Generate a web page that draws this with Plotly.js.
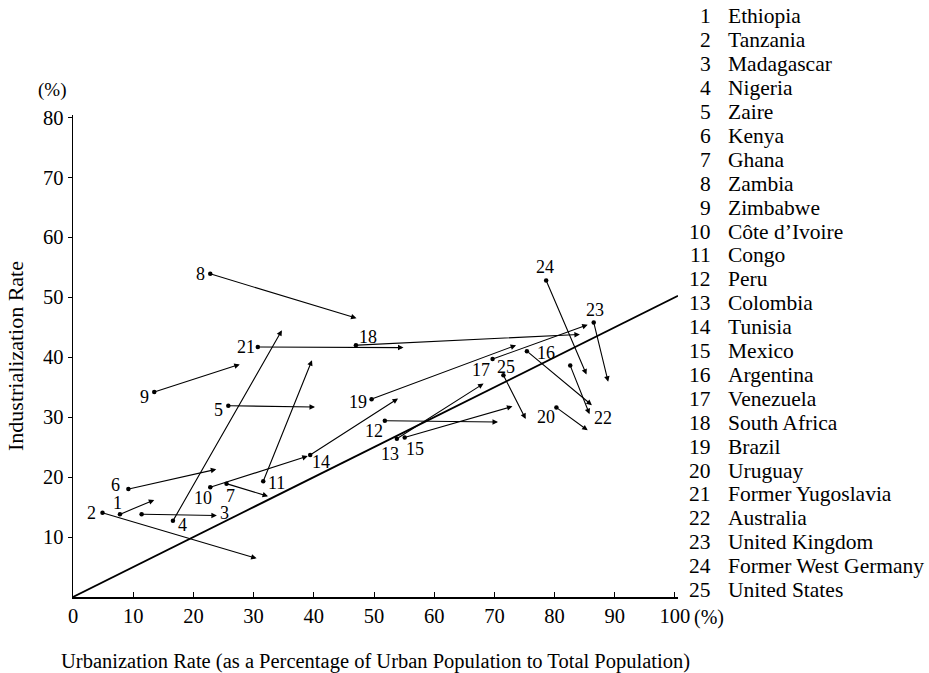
<!DOCTYPE html>
<html>
<head>
<meta charset="utf-8">
<script src="https://cdn.plot.ly/plotly-3.0.1.min.js"></script>
<style>html,body{margin:0;padding:0;background:#fff;}#chart{width:929px;height:673px;}</style>
</head>
<body>
<div id="chart"></div>
<script>
// ---- data ----
const countryIds = ['1','2','3','4','5','6','7','8','9','10','11','12','13','14','15','16','17','18','19','20','21','22','23','24','25'];
const countries = ['Ethiopia','Tanzania','Madagascar','Nigeria','Zaire','Kenya','Ghana','Zambia','Zimbabwe','Côte d\u2019Ivoire','Congo','Peru','Colombia','Tunisia','Mexico','Argentina','Venezuela','South Africa','Brazil','Uruguay','Former Yugoslavia','Australia','United Kingdom','Former West Germany','United States'];
const urbanStart = [7.8, 4.9, 11.4, 16.6, 25.8, 9.2, 25.5, 22.8, 13.5, 22.8, 31.6, 51.8, 53.8, 39.4, 55.1, 75.4, 69.7, 47.0, 49.6, 80.3, 30.7, 82.6, 86.5, 78.6, 71.5];
const industStart = [13.8, 14.05, 13.8, 12.7, 31.9, 18.0, 18.9, 53.9, 34.2, 18.3, 19.3, 29.4, 26.4, 23.7, 26.6, 41.0, 39.7, 42.0, 33.0, 31.6, 41.7, 38.6, 45.8, 52.8, 37.0];
const urbanEnd = [13.5, 30.5, 23.9, 34.7, 40.2, 23.8, 32.4, 47.1, 27.7, 39.0, 39.7, 70.6, 68.2, 54.0, 73.0, 86.2, 85.5, 84.2, 73.6, 85.5, 54.9, 85.8, 88.9, 85.3, 75.2];
const industEnd = [16.2, 6.45, 13.6, 44.5, 31.7, 21.3, 16.8, 46.5, 38.8, 23.5, 39.5, 29.2, 35.6, 33.1, 31.8, 32.0, 45.4, 43.8, 42.0, 27.8, 41.6, 30.5, 35.9, 37.1, 29.7];
const refLineX = [0, 100.5];
const refLineY = [0, 50.25];
const xTickVals = [0,10,20,30,40,50,60,70,80,90,100];
const yTickVals = [10,20,30,40,50,60,70,80];

// ---- label placement (layout, pixels) ----
const labelAnchor = ['s','s','e','s','s','s','s','s','s','s','s','s','s','s','s','s','s','s','s','s','s','e','s','s','s'];
const labelDx = [-2,-11,8,10,-10,-13,4,-10,-10,-7,13,-11,-7,11,10,19,-12,12,-14,-10,-12,13,1,-1,3];
const labelDy = [-11,0,-2,4,4,-4,12,0,5,11,2,10,15,7,11,2,11,-8,3,9,0,4,-12,-13,-8];

const FONT = 'Liberation Serif, Times New Roman, serif';

const traces = [
  {x: refLineX, y: refLineY, mode:'lines', line:{color:'#000', width:1.8}, hoverinfo:'skip'},
  {x: urbanStart, y: industStart, mode:'markers', marker:{color:'#000', size:4.5}, cliponaxis:false, text: countries, hoverinfo:'text'}
];

const annotations = [];
for (let i = 0; i < countries.length; i++) {
  annotations.push({
    x: urbanEnd[i], y: industEnd[i], ax: urbanStart[i], ay: industStart[i],
    xref:'x', yref:'y', axref:'x', ayref:'y',
    text:'', showarrow:true, arrowhead:2, arrowsize:1, arrowwidth:1.1, arrowcolor:'#000', standoff:0, startstandoff:0
  });
  const useEnd = labelAnchor[i] === 'e';
  annotations.push({
    x: useEnd ? urbanEnd[i] : urbanStart[i], y: useEnd ? industEnd[i] : industStart[i],
    xref:'x', yref:'y', text: countryIds[i], showarrow:false,
    xshift: labelDx[i], yshift: -labelDy[i], xanchor:'center', yanchor:'middle',
    font:{family:FONT, size:18, color:'#000'}
  });
}
// side list
const pxToPaperX = px => (px - 73) / 605;
const pyToPaperY = py => (597 - py) / 482.4;
for (let i = 0; i < countries.length; i++) {
  const py = 16 + 23.92 * i;
  annotations.push({x: pxToPaperX(713), y: pyToPaperY(py), xref:'paper', yref:'paper', xanchor:'right', yanchor:'middle', text: countryIds[i], showarrow:false, font:{family:FONT, size:21.5, color:'#000'}});
  annotations.push({x: pxToPaperX(726), y: pyToPaperY(py), xref:'paper', yref:'paper', xanchor:'left', yanchor:'middle', text: countries[i], showarrow:false, font:{family:FONT, size:21.5, color:'#000'}});
}
// unit marks
annotations.push({x: pxToPaperX(52), y: pyToPaperY(90), xref:'paper', yref:'paper', text:'(%)', showarrow:false, xanchor:'center', yanchor:'middle', font:{family:FONT, size:19, color:'#000'}});
annotations.push({x: pxToPaperX(692), y: pyToPaperY(618), xref:'paper', yref:'paper', text:'(%)', showarrow:false, xanchor:'left', yanchor:'middle', font:{family:FONT, size:20, color:'#000'}});

const layout = {
  width:929, height:673,
  margin:{l:73, r:251, t:114.6, b:76, pad:0},
  paper_bgcolor:'#fff', plot_bgcolor:'#fff',
  font:{family:FONT, size:20, color:'#000'},
  showlegend:false,
  xaxis:{
    range:[0,100.5], tickvals:xTickVals, ticks:'inside', ticklen:5, tickwidth:1, tickcolor:'#000',
    showline:true, linecolor:'#000', linewidth:1.5, showgrid:false, zeroline:false,
    tickfont:{family:FONT, size:20.5, color:'#000'},
    title:{text:'Urbanization Rate (as a Percentage of Urban Population to Total Population)', font:{family:FONT, size:20.5, color:'#000'}, standoff:27}
  },
  yaxis:{
    range:[0,80.4], tickvals:yTickVals, ticks:'outside', ticklen:4, tickwidth:1, tickcolor:'#000',
    showline:true, linecolor:'#000', linewidth:1.5, showgrid:false, zeroline:false,
    tickfont:{family:FONT, size:20.5, color:'#000'},
    title:{text:'Industrialization Rate', font:{family:FONT, size:22, color:'#000'}, standoff:13}
  },
  annotations: annotations
};

Plotly.newPlot('chart', traces, layout, {staticPlot:true, displayModeBar:false});
</script>
</body>
</html>
